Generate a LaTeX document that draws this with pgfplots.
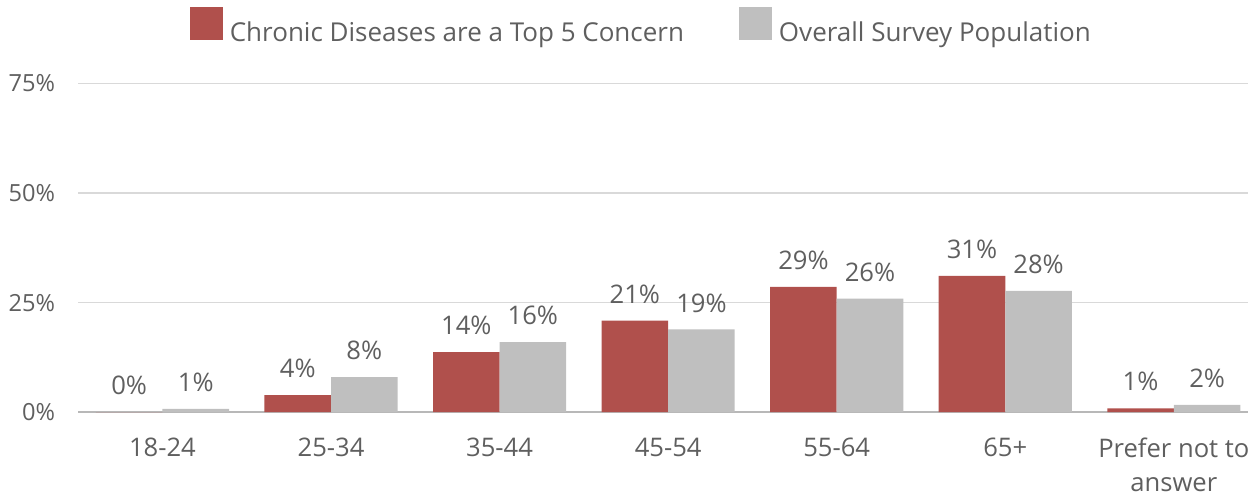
\documentclass[border=0pt]{standalone}
\usepackage{fontspec}
\setmainfont{Open Sans}
\usepackage{pgfplots}
\usepackage{pgfplotstable}
\pgfplotsset{compat=1.18}
\definecolor{redbar}{HTML}{B0504C}
\definecolor{greybar}{HTML}{BFBFBF}
\definecolor{textgray}{HTML}{5F5F5F}
\definecolor{gridgray}{HTML}{D9D9D9}
\definecolor{axisgray}{HTML}{B8B8B8}
\pgfplotstableread{
x red grey rl gl
0 0.0  0.75 0\% 1\%
1 3.9  8.0  4\% 8\%
2 13.7 16.0 14\% 16\%
3 20.9 18.9 21\% 19\%
4 28.6 25.9 29\% 26\%
5 31.1 27.7 31\% 28\%
6 0.9  1.7  1\% 2\%
}\datatable
\begin{document}
\begin{tikzpicture}
\begin{axis}[
  name=ax,
  scale only axis,
  width=585pt, height=164.4pt,
  xmin=-0.5, xmax=6.44,
  ymin=0, ymax=75,
  ybar=0pt, bar width=0.395,
  xtick={0,...,6},
  xticklabels={18-24,25-34,35-44,45-54,55-64,65+,{Prefer not to\\answer}},
  xticklabel style={align=center, font=\fontsize{12.8}{16.8}\selectfont, text=textgray, anchor=north, yshift=-9.5pt},
  ytick={0,25,50,75},
  yticklabels={0\%,25\%,50\%,75\%},
  yticklabel style={font=\fontsize{11.8}{14}\selectfont, text=textgray, xshift=-8pt},
  major tick length=0pt,
  axis x line*=bottom,
  axis y line*=left,
  y axis line style={draw=none},
  x axis line style={draw=axisgray, line width=0.8pt, -},
  ymajorgrids,
  major grid style={draw=gridgray, line width=0.6pt},
  nodes near coords,
  point meta=explicit symbolic,
  every node near coord/.append style={font=\fontsize{12.8}{15}\selectfont, text=textgray, yshift=5pt},
  legend style={at={(0.4835,1.169)}, anchor=center, draw=none, fill=none,
    legend columns=2,
    font=\fontsize{13}{16}\selectfont, text=textgray,
    /tikz/every even column/.append style={column sep=24pt},
    /tikz/every odd column/.append style={column sep=0pt},
    nodes={inner xsep=3.5pt}},
  legend image code/.code={\fill[#1] (0pt,-3.6pt) rectangle (16.5pt,12.9pt);},
]
\addplot[fill=redbar, draw=none] table[x=x, y=red, meta=rl] {\datatable};
\addplot[fill=greybar, draw=none] table[x=x, y=grey, meta=gl] {\datatable};
\legend{Chronic Diseases are a Top 5 Concern, Overall Survey Population}
\end{axis}
\pgfresetboundingbox
\path[use as bounding box] ([shift={(-39.1pt,-41.85pt)}]ax.south west) rectangle ([shift={(0pt,41.75pt)}]ax.north east);
\end{tikzpicture}
\end{document}
